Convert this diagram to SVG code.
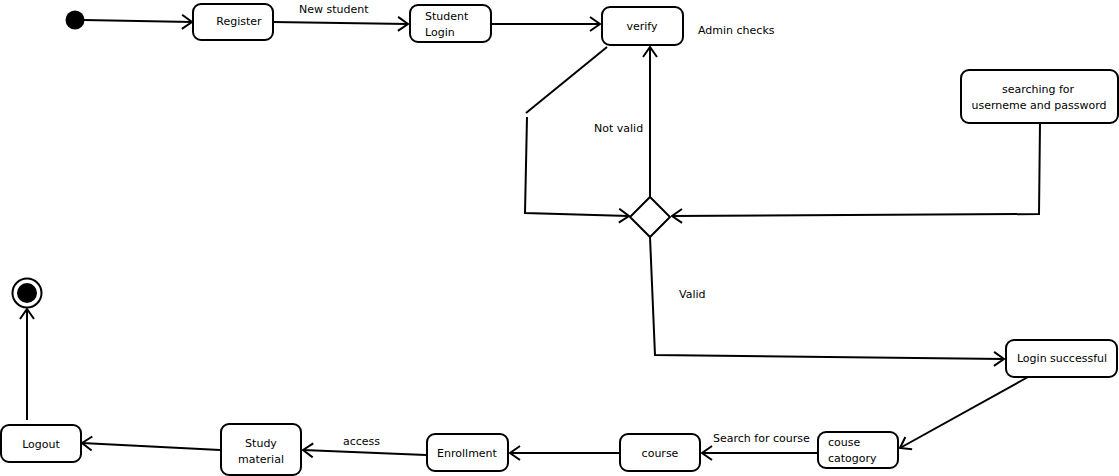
<svg xmlns="http://www.w3.org/2000/svg" width="1119" height="476" viewBox="0 0 1119 476">
<style>
.n{fill:#fff;stroke:#000;stroke-width:2}
.t{font-family:"DejaVu Sans",Verdana,sans-serif;font-size:11px;fill:#000}
.c{fill:none;stroke:#000;stroke-width:2}
.a{marker-end:url(#ar)}
</style>
<defs>
<marker id="ar" viewBox="0 0 12 16" refX="11" refY="8" markerWidth="12" markerHeight="16" markerUnits="userSpaceOnUse" orient="auto">
<path d="M1,1 L11,8 L1,15" fill="none" stroke="#000" stroke-width="2"/>
</marker>
</defs>
<rect width="1119" height="476" fill="#fff"/>
<g id="connectors">
<line class="c a" x1="84" y1="20" x2="192" y2="22"/>
<line class="c a" x1="273" y1="22" x2="408" y2="24"/>
<line class="c a" x1="491" y1="24" x2="600" y2="24"/>
<line class="c" x1="607" y1="47" x2="526" y2="113"/>
<polyline class="c a" points="527,117 525,213 629,216"/>
<line class="c a" x1="650" y1="197" x2="650" y2="47"/>
<polyline class="c a" points="1040,123 1039,214 672,216"/>
<polyline class="c a" points="650,237 655,355 1004,359"/>
<line class="c a" x1="1028" y1="377" x2="900" y2="448"/>
<line class="c a" x1="818" y1="453" x2="702" y2="453"/>
<line class="c a" x1="620" y1="453" x2="510" y2="453"/>
<line class="c a" x1="426" y1="455" x2="303" y2="450"/>
<line class="c a" x1="220" y1="450" x2="82" y2="443"/>
<line class="c a" x1="27" y1="420" x2="27" y2="309"/>
<text class="t" x="299" y="13">New student</text>
<text class="t" x="698" y="34">Admin checks</text>
<text class="t" x="594" y="132">Not valid</text>
<text class="t" x="679" y="298">Valid</text>
<text class="t" x="713" y="442">Search for course</text>
<text class="t" x="343" y="445">access</text>
</g>
<g id="start"><circle cx="75" cy="20" r="9.5" fill="#000"/></g>
<g id="register"><rect class="n" x="193" y="4" width="80" height="36" rx="8"/><text class="t" x="239" y="25" text-anchor="middle">Register</text></g>
<g id="student-login"><rect class="n" x="410" y="5" width="81" height="37" rx="8"/><text class="t" x="425" y="20">Student</text><text class="t" x="425" y="36">Login</text></g>
<g id="verify"><rect class="n" x="602" y="7" width="81" height="38" rx="8"/><text class="t" x="642" y="30" text-anchor="middle">verify</text></g>
<g id="searching"><rect class="n" x="961" y="70" width="157" height="53" rx="8"/><text class="t" x="1038" y="93" text-anchor="middle">searching for</text><text class="t" x="1039" y="109" text-anchor="middle">userneme and password</text></g>
<g id="decision"><polygon class="n" points="650,197 670,217 650,237 630,217"/></g>
<g id="login-successful"><rect class="n" x="1006" y="340" width="111" height="37" rx="8"/><text class="t" x="1062" y="362" text-anchor="middle">Login successful</text></g>
<g id="course-category"><rect class="n" x="818" y="432" width="80" height="36" rx="8"/><text class="t" x="828" y="446">couse</text><text class="t" x="828" y="462">catogory</text></g>
<g id="course"><rect class="n" x="620" y="434" width="80" height="37" rx="8"/><text class="t" x="660" y="457" text-anchor="middle">course</text></g>
<g id="enrollment"><rect class="n" x="427" y="434" width="81" height="37" rx="8"/><text class="t" x="467" y="457" text-anchor="middle">Enrollment</text></g>
<g id="study-material"><rect class="n" x="221" y="424" width="80" height="51" rx="8"/><text class="t" x="261" y="447" text-anchor="middle">Study</text><text class="t" x="261" y="463" text-anchor="middle">material</text></g>
<g id="logout"><rect class="n" x="1" y="425" width="80" height="37" rx="8"/><text class="t" x="41" y="448" text-anchor="middle">Logout</text></g>
<g id="end"><circle cx="27" cy="293" r="14.5" fill="#fff" stroke="#000" stroke-width="2"/><circle cx="27" cy="293" r="10" fill="#000"/></g>
</svg>
